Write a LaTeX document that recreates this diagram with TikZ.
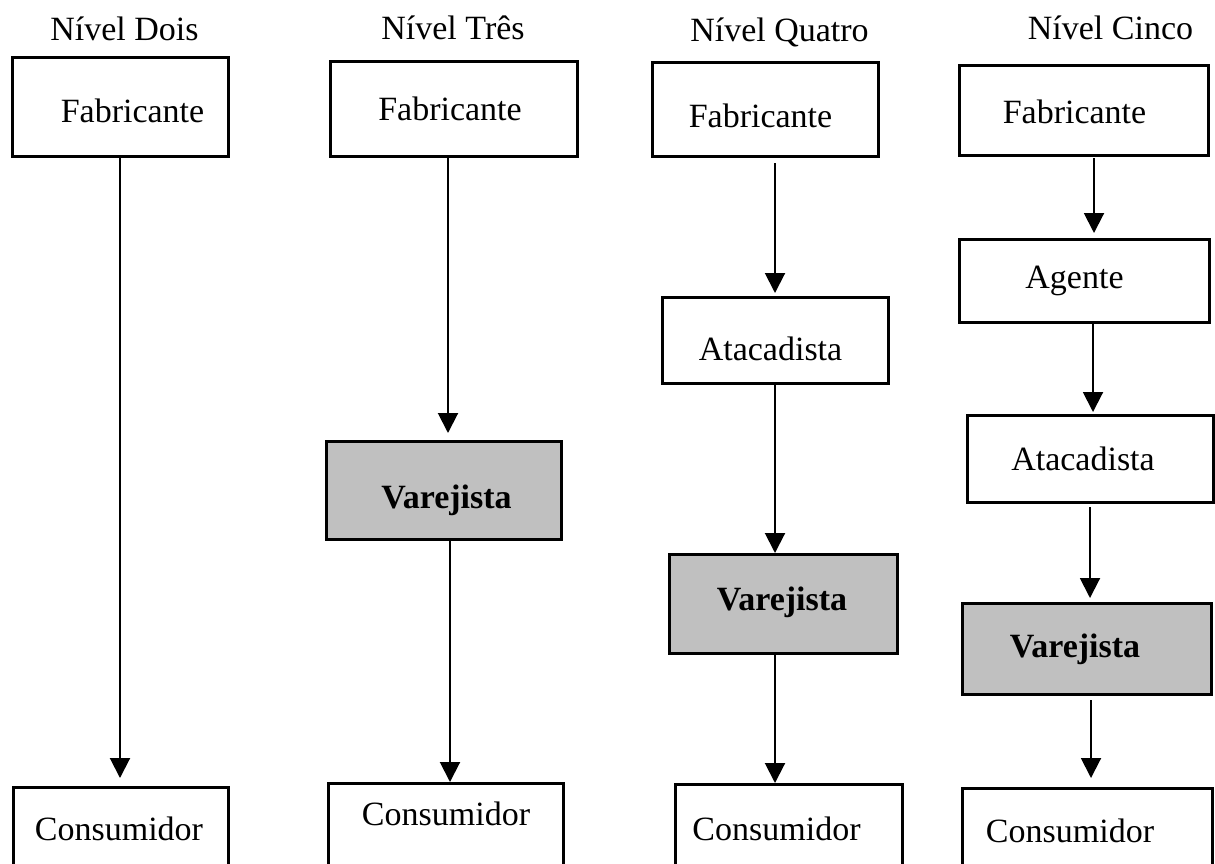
\documentclass[tikz,border=0pt]{standalone}
\usepackage{fontspec}
\setmainfont{Liberation Serif}
\usetikzlibrary{arrows.meta}
\definecolor{boxgrey}{RGB}{192,192,192}
\begin{document}
\begin{tikzpicture}[x=0.5pt,y=-0.5pt,
  box/.style={draw=black, line width=1.5pt, fill=white, inner sep=0pt, outer sep=0pt},
  greybox/.style={box, fill=boxgrey},
  lbl/.style={anchor=base, inner sep=0pt, font=\fontsize{17pt}{20pt}\selectfont},
  blbl/.style={lbl, font=\fontsize{17pt}{20pt}\selectfont\bfseries},
  arr/.style={draw=black, line width=1pt, -{Triangle[length=10pt,width=10pt]}}]
\useasboundingbox (0,0) rectangle (1215,863);

% headers
\node[lbl] (h1) at (124.5,40) {Nível Dois};
\node[lbl] (h2) at (453,39) {Nível Três};
\node[lbl] (h3) at (779.5,41) {Nível Quatro};
\node[lbl] (h4) at (1110.5,39) {Nível Cinco};

% column 1
\node[box, minimum width=108pt, minimum height=49.5pt] (f1) at (120,106.5) {};
\node[lbl] (f1t) at (132.5,122) {Fabricante};
\node[box, minimum width=107.5pt, minimum height=56.5pt] (k1) at (120.5,843.5) {};
\node[lbl] (k1t) at (119,840) {Consumidor};

% column 2
\node[box, minimum width=123.5pt, minimum height=47.5pt] (f2) at (453.5,108.5) {};
\node[lbl] (f2t) at (450,120) {Fabricante};
\node[greybox, minimum width=117.5pt, minimum height=49pt] (v2) at (443.5,490) {};
\node[blbl] (v2t) at (446.5,508) {Varejista};
\node[box, minimum width=117.5pt, minimum height=58.5pt] (k2) at (445.5,841.5) {};
\node[lbl] (k2t) at (446,825) {Consumidor};

% column 3
\node[box, minimum width=113pt, minimum height=47pt] (f3) at (765,109) {};
\node[lbl] (f3t) at (760.5,127) {Fabricante};
\node[box, minimum width=113pt, minimum height=43pt] (a3) at (775,340) {};
\node[lbl] (a3t) at (770.5,360) {Atacadista};
\node[greybox, minimum width=114pt, minimum height=49.5pt] (v3) at (783,603.5) {};
\node[blbl] (v3t) at (782,610) {Varejista};
\node[box, minimum width=113.5pt, minimum height=58pt] (k3) at (788.5,842) {};
\node[lbl] (k3t) at (776.5,840) {Consumidor};

% column 4
\node[box, minimum width=124.5pt, minimum height=45pt] (f4) at (1083.5,110) {};
\node[lbl] (f4t) at (1074.5,123) {Fabricante};
\node[box, minimum width=125pt, minimum height=41.5pt] (ag4) at (1084,280.5) {};
\node[lbl] (ag4t) at (1074.5,288) {Agente};
\node[box, minimum width=123pt, minimum height=43.5pt] (at4) at (1090,458.5) {};
\node[lbl] (at4t) at (1083,470) {Atacadista};
\node[greybox, minimum width=124.5pt, minimum height=45.5pt] (v4) at (1086.5,648.5) {};
\node[blbl] (v4t) at (1075,657) {Varejista};
\node[box, minimum width=125pt, minimum height=56pt] (k4) at (1087,844) {};
\node[lbl] (k4t) at (1070,842) {Consumidor};

% arrow columns
\coordinate (c1) at (120,0);
\coordinate (c2a) at (448,0);
\coordinate (c2b) at (450,0);
\coordinate (c3) at (775,0);
\coordinate (c4a) at (1094,0);
\coordinate (c4b) at (1093,0);
\coordinate (c4c) at (1090,0);
\coordinate (c4d) at (1091,0);

% arrows
\draw[arr, shorten >=4.5pt] (f1.south -| c1) -- (k1.north -| c1);
\draw[arr, shorten >=4pt] (f2.south -| c2a) -- (v2.north -| c2a);
\draw[arr, shorten >=0.5pt] (v2.south -| c2b) -- (k2.north -| c2b);
\draw[arr, shorten <=3.5pt, shorten >=2pt] (f3.south -| c3) -- (a3.north -| c3);
\draw[arr, shorten >=0.5pt] (a3.south -| c3) -- (v3.north -| c3);
\draw[arr, shorten >=0.5pt] (v3.south -| c3) -- (k3.north -| c3);
\draw[arr, shorten <=1.5pt, shorten >=3pt] (f4.south -| c4a) -- (ag4.north -| c4a);
\draw[arr, shorten >=1.5pt] (ag4.south -| c4b) -- (at4.north -| c4b);
\draw[arr, shorten <=2.5pt, shorten >=2.5pt] (at4.south -| c4c) -- (v4.north -| c4c);
\draw[arr, shorten <=3pt, shorten >=5pt] (v4.south -| c4d) -- (k4.north -| c4d);
\end{tikzpicture}
\end{document}
